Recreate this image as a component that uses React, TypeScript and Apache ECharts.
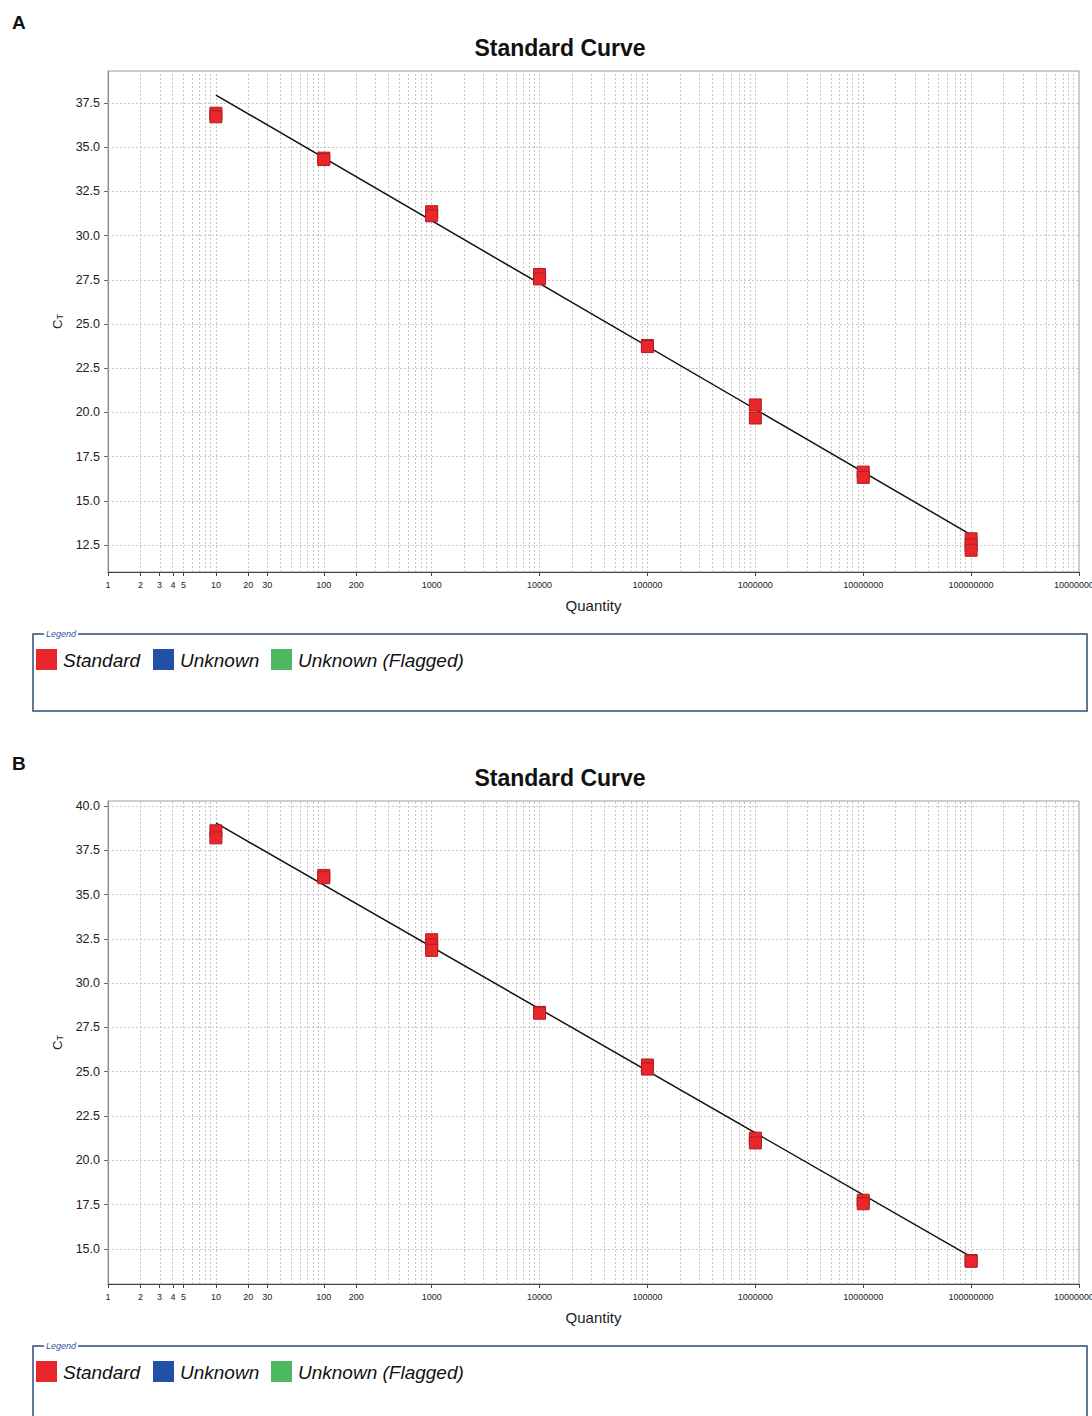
import React, { useEffect, useRef } from "react";
import * as echarts from "echarts";

// ---------- data ----------
const quantities = [10, 100, 1000, 10000, 100000, 1000000, 10000000, 100000000];
// replicate Ct values per quantity (panel A)
const ctReplicatesA = [
  [36.92, 36.72],
  [34.38, 34.3],
  [31.35, 31.12],
  [27.8, 27.55],
  [23.78, 23.72],
  [20.42, 19.68],
  [16.62, 16.32],
  [12.85, 12.5, 12.2],
];
// replicate Ct values per quantity (panel B)
const ctReplicatesB = [
  [38.6, 38.2],
  [36.08, 35.95],
  [32.45, 32.15, 31.85],
  [28.35, 28.3],
  [25.38, 25.15],
  [21.25, 20.98],
  [17.75, 17.55],
  [14.35, 14.3],
];
// regression line end points
const fitQuantities = [10, 100000000];
const fitCtA = [37.95, 13.07];
const fitCtB = [39.04, 14.55];

const xTickQuantities = [
  1, 2, 3, 4, 5, 10, 20, 30, 100, 200, 1000, 10000, 100000, 1000000, 10000000,
  100000000, 1000000000,
];
const yTicksA = [12.5, 15, 17.5, 20, 22.5, 25, 27.5, 30, 32.5, 35, 37.5];
const yTicksB = [15, 17.5, 20, 22.5, 25, 27.5, 30, 32.5, 35, 37.5, 40];
const yRangeA = [10.97, 39.31];
const yRangeB = [13.02, 40.28];

const legendLabels = ["Standard", "Unknown", "Unknown (Flagged)"];
const legendColors = ["#e8262b", "#2250a6", "#4cb85f"];

const panelLabels = ["A", "B"];
const chartTitle = "Standard Curve";

// ---------- helpers ----------
const FONT = "'Liberation Sans', Arial, sans-serif";
const lg = (v: number) => Math.log10(v);

// minor grid positions: k * 10^d for each decade
const gridQuantities: number[] = [];
for (let d = 0; d < 9; d++) {
  for (let k = 1; k <= 9; k++) {
    const q = k * Math.pow(10, d);
    if (q > 1) gridQuantities.push(q);
  }
}

function panel(
  idx: number,
  top: number,
  height: number,
  yRange: number[],
  yTicks: number[],
  reps: number[][],
  fitCt: number[]
) {
  const grid = {
    left: 108,
    top,
    width: 971,
    height,
    show: true,
    borderColor: "#9a9a9a",
    borderWidth: 1,
    backgroundColor: "#fff",
    containLabel: false,
    outerBoundsMode: "none",
  };
  const xTickVals = xTickQuantities.map(lg);
  const xAxis = {
    gridIndex: idx,
    type: "value",
    min: 0,
    max: 9,
    axisLine: { show: true, onZero: false, lineStyle: { color: "#444", width: 1 } },
    axisTick: { show: true, customValues: xTickVals, length: 4, lineStyle: { color: "#444" } },
    axisLabel: {
      customValues: xTickVals,
      formatter: (v: number) => String(Math.round(Math.pow(10, v))),
      fontSize: 9,
      margin: 8,
      color: "#222",
      fontFamily: FONT,
    },
    splitLine: { show: false },
    name: "Quantity",
    nameLocation: "middle",
    nameGap: 26,
    nameTextStyle: { fontSize: 15, color: "#222", fontFamily: FONT },
  };
  const yAxis = {
    gridIndex: idx,
    type: "value",
    min: yRange[0],
    max: yRange[1],
    axisLine: { show: true, onZero: false, lineStyle: { color: "#888", width: 1 } },
    axisTick: { show: true, customValues: yTicks, length: 4, lineStyle: { color: "#666" } },
    axisLabel: {
      customValues: yTicks,
      formatter: (v: number) => v.toFixed(1),
      fontSize: 12.5,
      margin: 8,
      color: "#222",
      fontFamily: FONT,
    },
    splitLine: { show: false },
    name: "{c|C}{t|T}",
    nameLocation: "middle",
    nameGap: 44,
    nameTextStyle: {
      rich: {
        c: { fontSize: 13, fontFamily: FONT, color: "#222" },
        t: { fontSize: 9, fontFamily: FONT, color: "#222", verticalAlign: "bottom" },
      },
    },
  };

  const gridLineData: any[] = [
    ...gridQuantities.map((q) => ({ xAxis: lg(q) })),
    ...yTicks.map((v) => ({ yAxis: v })),
  ];

  const points: number[][] = [];
  quantities.forEach((q, i) => {
    reps[i].forEach((ct) => points.push([lg(q), ct]));
  });

  const series = [
    {
      type: "scatter",
      name: "grid",
      xAxisIndex: idx,
      yAxisIndex: idx,
      data: [],
      silent: true,
      z: 1,
      markLine: {
        silent: true,
        z: 1,
        symbol: ["none", "none"],
        label: { show: false },
        lineStyle: { color: "#c6c6c6", type: [2, 2], width: 1 },
        emphasis: { disabled: true },
        data: gridLineData,
      },
    },
    {
      type: "line",
      name: "fit",
      xAxisIndex: idx,
      yAxisIndex: idx,
      data: fitQuantities.map((q, i) => [lg(q), fitCt[i]]),
      symbol: "none",
      silent: true,
      lineStyle: { color: "#111", width: 1.5 },
      z: 3,
    },
    {
      type: "scatter",
      name: legendLabels[0],
      xAxisIndex: idx,
      yAxisIndex: idx,
      data: points,
      symbol: "rect",
      symbolSize: 12,
      itemStyle: {
        color: legendColors[0],
        borderColor: "#b11d21",
        borderWidth: 1,
        opacity: 1,
      },
      z: 4,
    },
  ];
  return { grid, xAxis, yAxis, series };
}

function legendGraphics(top: number, boxHeight: number) {
  const els: any[] = [
    {
      type: "rect",
      shape: { x: 33, y: top, width: 1054, height: boxHeight },
      style: { fill: "none", stroke: "#2f4a73", lineWidth: 1.5 },
    },
    {
      type: "text",
      x: 44,
      y: top,
      style: {
        text: "Legend",
        fontSize: 9,
        fontStyle: "italic",
        fontFamily: FONT,
        fill: "#2a55a0",
        backgroundColor: "#fff",
        padding: [0, 2],
        verticalAlign: "middle",
        align: "left",
      },
    },
  ];
  const squareX = [36, 153, 271];
  legendLabels.forEach((label, i) => {
    els.push({
      type: "rect",
      shape: { x: squareX[i], y: top + 15, width: 21, height: 21 },
      style: { fill: legendColors[i] },
    });
    els.push({
      type: "text",
      x: squareX[i] + 27,
      y: top + 26,
      style: {
        text: label,
        fontSize: 19,
        fontStyle: "italic",
        fontFamily: FONT,
        fill: "#111",
        verticalAlign: "middle",
        align: "left",
      },
    });
  });
  return els;
}

export default function App() {
  const ref = useRef<HTMLDivElement>(null);
  useEffect(() => {
    if (!ref.current) return;
    const chart = echarts.init(ref.current, null, { renderer: "svg" });
    const pA = panel(0, 71, 501, yRangeA, yTicksA, ctReplicatesA, fitCtA);
    const pB = panel(1, 801, 483, yRangeB, yTicksB, ctReplicatesB, fitCtB);

    const graphic: any[] = [
      ...[22, 763].map((y, i) => ({
        type: "text",
        x: 12,
        y,
        style: {
          text: panelLabels[i],
          fontSize: 19,
          fontWeight: "bold",
          fontFamily: FONT,
          fill: "#111",
          verticalAlign: "middle",
          align: "left",
        },
      })),
      ...[48, 778].map((y) => ({
        type: "text",
        x: 560,
        y,
        style: {
          text: chartTitle,
          fontSize: 23,
          fontWeight: "bold",
          fontFamily: FONT,
          fill: "#111",
          verticalAlign: "middle",
          align: "center",
        },
      })),
      ...legendGraphics(634, 77),
      ...legendGraphics(1346, 100),
    ];

    chart.setOption({
      animation: false,
      backgroundColor: "#fff",
      grid: [pA.grid, pB.grid],
      xAxis: [pA.xAxis, pB.xAxis],
      yAxis: [pA.yAxis, pB.yAxis],
      series: [...pA.series, ...pB.series],
      graphic,
    } as any);
    return () => chart.dispose();
  }, []);
  return (
    <div
      ref={ref}
      style={{ position: "absolute", left: 0, top: 0, width: 1092, height: 1416 }}
    />
  );
}
